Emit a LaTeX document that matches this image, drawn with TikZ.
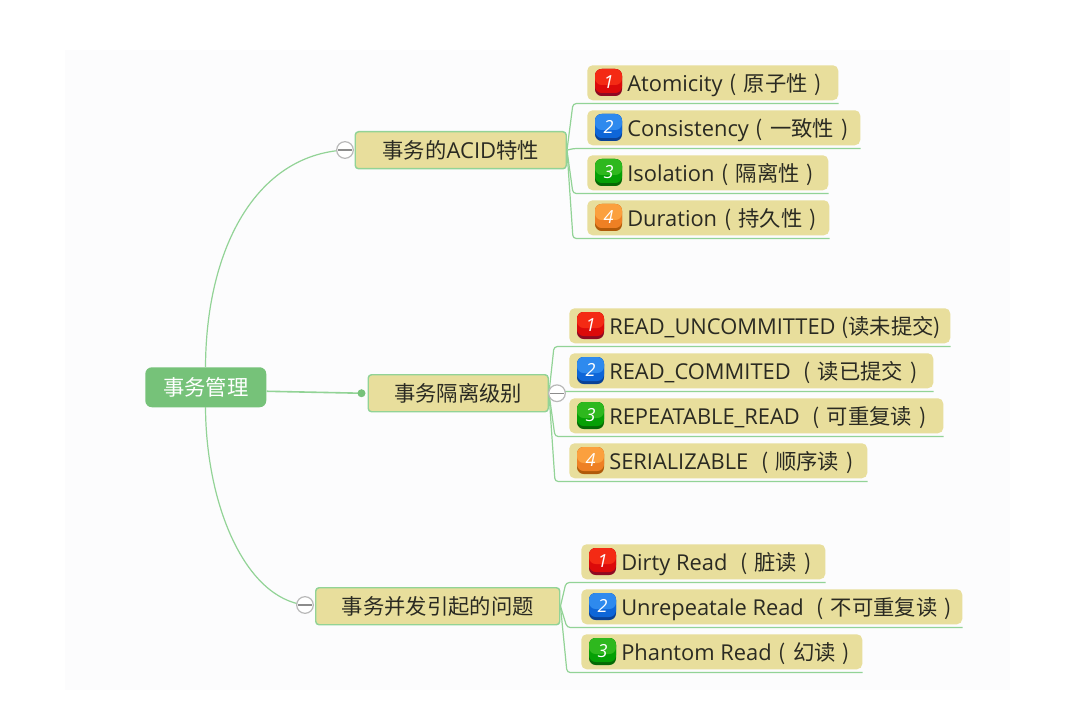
\documentclass[tikz,border=0pt]{standalone}
\usepackage{fontspec}
\setmainfont{Open Sans}
\newfontfamily\cjk{Noto Sans CJK SC}
\usetikzlibrary{calc}
\definecolor{panelc}{HTML}{FCFCFD}
\definecolor{boxc}{HTML}{E8DE9C}
\definecolor{linec}{HTML}{92D396}
\definecolor{rootc}{HTML}{76C279}
\definecolor{inkc}{HTML}{2A2A22}
\definecolor{redA}{HTML}{F42A14}\definecolor{redB}{HTML}{DC0A0A}\definecolor{redC}{HTML}{8E0A22}
\definecolor{bluA}{HTML}{2E8AEE}\definecolor{bluB}{HTML}{0E66D8}\definecolor{bluC}{HTML}{0A4296}
\definecolor{grnA}{HTML}{2EB81E}\definecolor{grnB}{HTML}{05A005}\definecolor{grnC}{HTML}{056A05}
\definecolor{orgA}{HTML}{FBA03E}\definecolor{orgB}{HTML}{EE8024}\definecolor{orgC}{HTML}{B05A0A}
\tikzset{
  x=0.75pt,y=-0.75pt,
  leafbox/.style={fill=boxc,rounded corners=4pt,inner sep=0pt,anchor=north west},
  topic/.style={fill=boxc,draw=linec,line width=1.1pt,rounded corners=2.5pt,inner sep=0pt,anchor=north west,text=inkc,font=\cjk\fontsize{16}{16}\selectfont},
  rootbox/.style={fill=rootc,rounded corners=5pt,inner sep=0pt,anchor=north west,text=white,font=\cjk\fontsize{16}{16}\selectfont},
  leaftext/.style={anchor=base west,inner sep=0pt,text=inkc,font=\fontsize{16.4}{16.4}\selectfont},
  conn/.style={draw=linec,line width=0.9pt,rounded corners=2.5pt},
  curve/.style={draw=linec,line width=0.9pt},
  collapse/.style={circle,draw=black!28,fill=white,line width=0.9pt,minimum size=12.5pt,inner sep=0pt},
  num/.style={inner sep=0pt,text=white,font=\itshape\fontsize{13.5}{13.5}\selectfont},
}
% name, left, right, top, colour, digit, text
\newcommand{\leafnode}[7]{%
  \node[leafbox,minimum width={(#3-#2)*0.75pt},minimum height=26.25pt] (#1) at (#2,#4) {};
  \fill[#5C,rounded corners=5pt] (#2+8,#4+4) rectangle (#2+35,#4+31);
  \fill[#5B,rounded corners=5pt] (#2+8,#4+4) rectangle (#2+35,#4+28);
  \fill[#5A,rounded corners=5pt] (#2+8,#4+4) rectangle (#2+35,#4+20);
  \node[num] (#1n) at (#2+21.5,#4+17) {#6};
  \node[leaftext] (#1t) at (#2+40,#4+26.5) {#7};
}
\newcommand{\zh}[1]{{\cjk\fontsize{16}{16}\selectfont #1}}
\newcommand{\lp}{\makebox[16pt][c]{\cjk\fontsize{16}{16}\selectfont (}}
\newcommand{\rp}{\makebox[16pt][c]{\cjk\fontsize{16}{16}\selectfont )}}
\begin{document}
\begin{tikzpicture}
\useasboundingbox (0,0) rectangle (1077,702);
\fill[panelc] (65,50) rectangle (1010,690);
% topics
\node[rootbox,minimum width=90.75pt,minimum height=30pt] (root) at (145,367) {\raisebox{-1pt}{事务管理}};
\node[topic,minimum width=158.25pt,minimum height=27.75pt] (ta) at (354.5,131) {\raisebox{-0.5pt}{事务的{\rmfamily\fontsize{16.5}{16}\selectfont ACID}特性}};
\node[topic,minimum width=135pt,minimum height=27.75pt] (tb) at (367.5,374) {\raisebox{-0.5pt}{事务隔离级别}};
\node[topic,minimum width=183pt,minimum height=27.75pt] (tc) at (315,587) {\raisebox{-0.5pt}{事务并发引起的问题}};
% leaves
\leafnode{a}{587}{838}{65}{red}{1}{Atomicity\lp\zh{原子性}\rp}
\leafnode{b}{587}{860}{110}{blu}{2}{Consistency\lp\zh{一致性}\rp}
\leafnode{c}{587}{828}{155}{grn}{3}{Isolation\lp\zh{隔离性}\rp}
\leafnode{d}{587}{829}{200}{org}{4}{Duration\lp\zh{持久性}\rp}
\leafnode{e}{569}{950}{308}{red}{1}{READ\_UNCOMMITTED \zh{(读未提交)}}
\leafnode{f}{569}{933}{353}{blu}{2}{READ\_COMMITED \lp\zh{读已提交}\rp}
\leafnode{g}{569}{943}{398}{grn}{3}{REPEATABLE\_READ \lp\zh{可重复读}\rp}
\leafnode{h}{569}{867}{443}{org}{4}{SERIALIZABLE \lp\zh{顺序读}\rp}
\leafnode{i}{581}{825}{544}{red}{1}{Dirty Read \lp\zh{脏读}\rp}
\leafnode{j}{581}{962}{589}{blu}{2}{Unrepeatale Read \lp\zh{不可重复读}\rp}
\leafnode{k}{581}{862}{634}{grn}{3}{Phantom Read\lp\zh{幻读}\rp}
% collapse markers and dot
\coordinate (ca) at (345,150);
\coordinate (cc) at (305,605);
\coordinate (dot) at ($(tb.west)+(-6,0)$);
% main curves
\draw[curve] (205.5,367) .. controls (206,250) and (255,155) .. (ca);
\draw[curve] (205.5,407) .. controls (206,505) and (245,598) .. (cc);
\draw[curve,line width=1.2pt] ($(root.east)+(0,4)$) -- (dot);
\fill[rootc] (dot) circle (3pt);
% branches
\foreach \p/\q/\a/\b in {ta/a/-14/-9,ta/b/-14/-9,ta/c/-14/-9,ta/d/-14/-9,
                         tb/e/-15/-9,tb/f/-12/-6,tb/g/-14/-8,tb/h/-14/-8,
                         tc/i/-15/-9,tc/j/-14/-8,tc/k/-14/-8}{
  \draw[conn] (\p.east) -- ($(\q.south west)+(\a,3)$) -- ($(\q.south east)+(0,3)$);
}
\node[collapse] (cca) at (ca) {};
\draw[black!45,line width=0.9pt] ($(cca.west)+(2,0)$) -- ($(cca.east)+(-2,0)$);
\node[collapse] (ccb) at ($(tb.east)+(8,0)$) {};
\draw[black!45,line width=0.9pt] ($(ccb.west)+(2,0)$) -- ($(ccb.east)+(-2,0)$);
\node[collapse] (ccc) at (cc) {};
\draw[black!45,line width=0.9pt] ($(ccc.west)+(2,0)$) -- ($(ccc.east)+(-2,0)$);
\end{tikzpicture}
\end{document}
